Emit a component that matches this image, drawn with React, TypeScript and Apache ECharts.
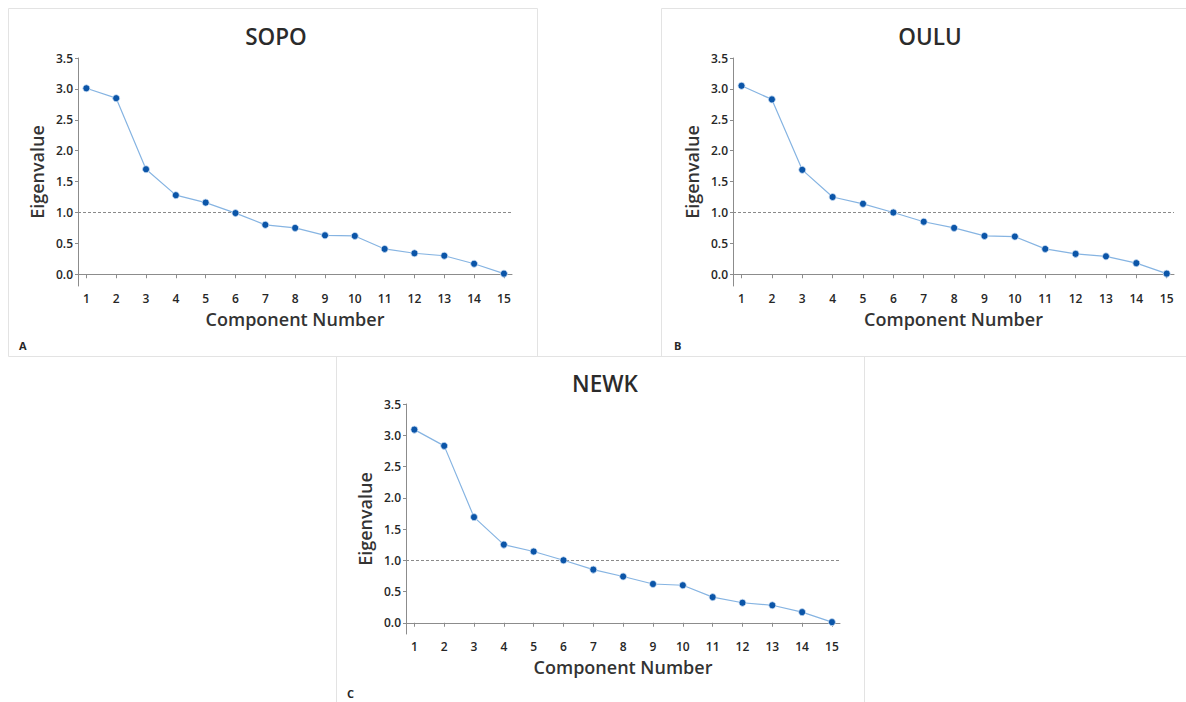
import React, { useEffect, useRef } from "react";
import * as echarts from "echarts";

const components = [1, 2, 3, 4, 5, 6, 7, 8, 9, 10, 11, 12, 13, 14, 15];
const yTicks = [0, 0.5, 1, 1.5, 2, 2.5, 3, 3.5];
const sopo = [3.01, 2.85, 1.7, 1.28, 1.16, 0.99, 0.8, 0.75, 0.63, 0.62, 0.41, 0.34, 0.3, 0.17, 0.01];
const oulu = [3.05, 2.83, 1.69, 1.25, 1.14, 1.0, 0.85, 0.75, 0.62, 0.61, 0.41, 0.33, 0.29, 0.18, 0.01];
const newk = [3.09, 2.83, 1.69, 1.25, 1.14, 1.0, 0.85, 0.74, 0.62, 0.6, 0.41, 0.32, 0.28, 0.17, 0.01];
const titles = ["SOPO", "OULU", "NEWK"];
const letters = ["A", "B", "C"];
const kaiserCutoff = 1.0;

const FONT = "'Open Sans', 'Noto Sans', sans-serif";

export default function App() {
  const ref = useRef<HTMLDivElement>(null);
  useEffect(() => {
    if (!ref.current) return;
    const chart = echarts.init(ref.current, null, { renderer: "svg" });
    const grids = [
      { left: 78, top: 58, width: 434, height: 228 },
      { left: 733, top: 58, width: 441, height: 228 },
      { left: 406, top: 404, width: 434, height: 230 },
    ];
    const xRanges = [
      [0.72, 15.27],
      [0.72, 15.24],
      [0.72, 15.27],
    ];
    const yMins = [-0.19, -0.19, -0.18];
    const datasets = [sopo, oulu, newk];
    const titleCenters = [
      { x: 271, y: 31 },
      { x: 925, y: 31 },
      { x: 600, y: 378 },
    ];
    const letterPos = [
      { x: 19, y: 345 },
      { x: 674, y: 345 },
      { x: 347, y: 693 },
    ];
    const panels = [
      { x: 8, y: 8, w: 529, h: 348 },
      { x: 661, y: 8, w: 530, h: 348 },
      { x: 336, y: 356, w: 528, h: 352 },
    ];
    const axisColor = "#8c8c8c";
    const option: any = {
      animation: false,
      backgroundColor: "#ffffff",
      title: titles.map((t, i) => ({
        text: t,
        left: titleCenters[i].x,
        top: titleCenters[i].y,
        textAlign: "center",
        textVerticalAlign: "middle",
        textStyle: { fontFamily: FONT, fontSize: 22.5, fontWeight: 600, color: "#2b2b2b" },
      })),
      graphic: [
        ...panels.map((p) => ({
          type: "rect",
          shape: { x: p.x + 0.5, y: p.y + 0.5, width: p.w, height: p.h },
          style: { fill: "none", stroke: "#e3e3e3", lineWidth: 1 },
          silent: true,
          z: -1,
        })),
        ...letters.map((l, i) => ({
          type: "text",
          x: letterPos[i].x,
          y: letterPos[i].y,
          style: {
            text: l,
            fontFamily: FONT,
            fontSize: 11,
            fontWeight: 700,
            fill: "#262626",
            verticalAlign: "middle",
          },
        })),
      ],
      grid: grids.map((g) => ({ ...g })),
      xAxis: grids.map((_, i) => ({
        type: "value",
        gridIndex: i,
        min: xRanges[i][0],
        max: xRanges[i][1],
        name: "Component Number",
        nameLocation: "middle",
        nameGap: 24,
        nameTextStyle: { fontFamily: FONT, fontSize: 18, fontWeight: 600, color: "#333" },
        axisLine: { show: true, lineStyle: { color: axisColor, width: 1 } },
        axisTick: { show: true, length: 4, customValues: components, lineStyle: { color: axisColor } },
        axisLabel: {
          customValues: components,
          fontFamily: FONT,
          fontSize: 12,
          fontWeight: 600,
          color: "#262626",
          margin: 6,
          formatter: (v: number) => String(Math.round(v)),
        },
        splitLine: { show: false },
      })),
      yAxis: grids.map((_, i) => ({
        type: "value",
        gridIndex: i,
        min: yMins[i],
        max: 3.5,
        name: "Eigenvalue",
        nameLocation: "middle",
        nameGap: 32,
        nameTextStyle: { fontFamily: FONT, fontSize: 18, fontWeight: 600, color: "#333" },
        axisLine: { show: true, lineStyle: { color: axisColor, width: 1 } },
        axisTick: { show: true, length: 3, customValues: yTicks, lineStyle: { color: axisColor } },
        axisLabel: {
          customValues: yTicks,
          fontFamily: FONT,
          fontSize: 12,
          fontWeight: 600,
          color: "#262626",
          margin: 5,
          formatter: (v: number) => v.toFixed(1),
        },
        splitLine: { show: false },
      })),
      series: datasets.map((d, i) => ({
        type: "line",
        xAxisIndex: i,
        yAxisIndex: i,
        data: d.map((v, k) => [components[k], v]),
        symbol: "circle",
        symbolSize: 7,
        lineStyle: { color: "#86b4e2", width: 1.2 },
        itemStyle: { color: "#0b55a8", borderColor: "#c8dcf2", borderWidth: 0.8 },
        z: 3,
        markLine: {
          silent: true,
          symbol: "none",
          label: { show: false },
          lineStyle: { color: "#8a8a8a", type: [3, 2], width: 1 },
          data: [{ yAxis: kaiserCutoff }],
          z: 1,
        },
      })),
    };
    chart.setOption(option);
    return () => chart.dispose();
  }, []);
  return (
    <div
      ref={ref}
      style={{ position: "fixed", left: 0, top: 0, width: 1186, height: 702, background: "#fff" }}
    />
  );
}
